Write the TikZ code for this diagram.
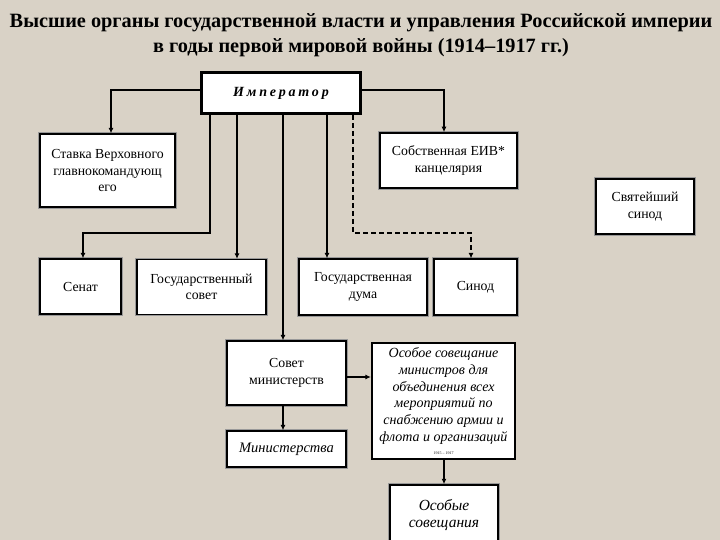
\documentclass[tikz,border=0pt]{standalone}
\usepackage{fontspec}
\setmainfont{Liberation Serif}
\usetikzlibrary{arrows.meta}
\definecolor{bgc}{HTML}{D9D2C6}
\begin{document}
\begin{tikzpicture}[x=1pt,y=-1pt,
  bx/.style={draw=black, line width=1.2pt, fill=white, align=center, inner sep=1pt,
    font=\fontsize{13.8}{16.5}\selectfont, preaction={draw=black!40, line width=3.4pt}},
  bxthick/.style={draw=black, line width=2.2pt, fill=white, align=center, inner sep=1pt,
    font=\fontsize{14}{16.8}\selectfont\itshape},
  arr/.style={line width=1.2pt, -{Latex[length=5.5pt,width=5pt]}},
  dsh/.style={arr, dashed, dash pattern=on 5pt off 3pt}]
\fill[bgc] (0,0) rectangle (720,540);
\useasboundingbox (0,0) rectangle (720,540);

\node[align=center, font=\fontsize{20.3}{24.5}\selectfont\bfseries] (title) at (361,35)
  {Высшие органы государственной власти и управления Российской империи\\
   в годы первой мировой войны (1914--1917 гг.)};

\node[draw=black, line width=3pt, fill=white, minimum width=159pt, minimum height=41pt,
  font=\fontsize{14}{16}\selectfont\bfseries\itshape\addfontfeature{LetterSpace=20}] (emp) at (281,93) {Император};

\node[bx, minimum width=135pt, minimum height=73pt] (stavka) at (107.5,170.5)
  {Ставка Верховного\\главнокомандующ\\его};
\node[bx, line width=1.5pt, minimum width=137pt, minimum height=55pt] (sob) at (448.5,160.5)
  {Собственная ЕИВ*\\канцелярия};
\node[bx, minimum width=98pt, minimum height=55pt] (svyat) at (645,206.5)
  {Святейший\\синод};
\node[bx, minimum width=81pt, minimum height=55pt] (senat) at (80.5,286.5) {Сенат};
\node[bx, minimum width=129pt, minimum height=55pt] (gs) at (201.5,287)
  {Государственный\\совет};
\node[bx, minimum width=128pt, minimum height=56pt] (duma) at (363,287)
  {Государственная\\дума};
\node[bx, minimum width=83pt, minimum height=56pt] (sinod) at (475.5,287) {Синод};
\node[bx, minimum width=119pt, minimum height=64pt] (sm) at (286.5,373)
  {Совет\\министерств};
\node[bxthick, minimum width=143pt, minimum height=116pt] (os) at (443.5,401)
  {Особое совещание\\министров для\\объединения всех\\мероприятий по\\снабжению армии и\\флота и организаций\\[-4pt]{\fontsize{4}{5}\selectfont\upshape 1915 -- 1917}};
\node[bx, font=\fontsize{14.5}{16.5}\selectfont\itshape, minimum width=119pt, minimum height=36pt] (min) at (286.5,449)
  {Министерства};
\node[bx, line width=1.5pt, font=\fontsize{15.5}{17}\selectfont\itshape, minimum width=108pt, minimum height=60pt] (osb) at (444,515)
  {Особые\\совещания};

% connectors
\draw[arr] (emp.west |- 0,90) -| (stavka.north -| 111,0);
\draw[arr] (emp.east |- 0,90) -| (sob.north -| 444,0);
\draw[arr] (emp.south -| 210,0) -- (210,233) -| (senat.north -| 83,0);
\draw[arr] (emp.south -| 237,0) -- (gs.north -| 237,0);
\draw[arr] (emp.south -| 283,0) -- (sm.north -| 283,0);
\draw[arr] (emp.south -| 327,0) -- (duma.north -| 327,0);
\draw[dsh] (emp.south -| 353,0) -- (353,233) -| (sinod.north -| 471,0);
\draw[arr] (sm.east |- 0,377) -- (os.west |- 0,377);
\draw[arr] (sm.south -| 283,0) -- (min.north -| 283,0);
\draw[arr] (os.south -| 444,0) -- (osb.north -| 444,0);
\end{tikzpicture}
\end{document}
